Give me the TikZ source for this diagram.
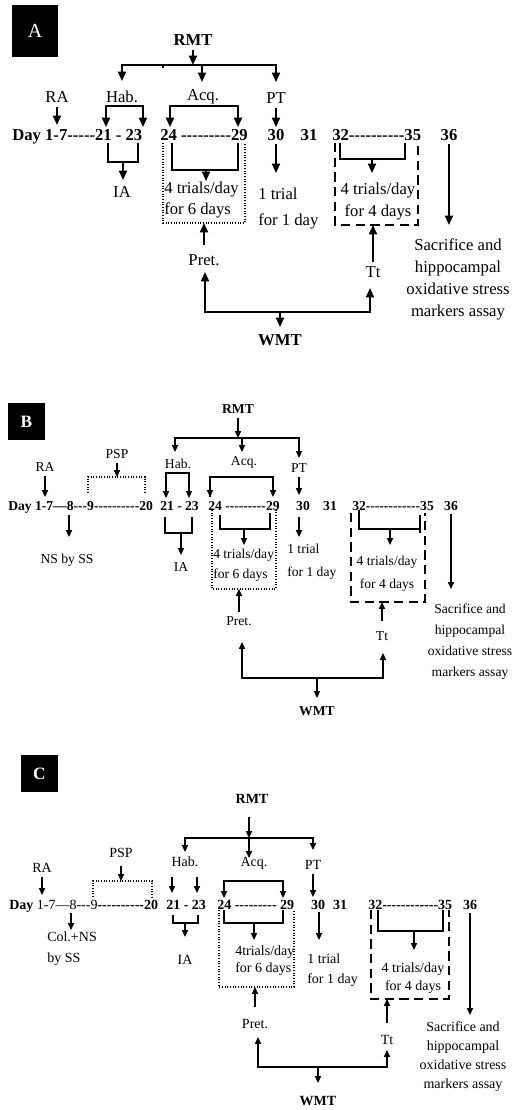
\documentclass[tikz,border=0pt]{standalone}
\usepackage{fontspec}
\setmainfont{Liberation Serif}[Ligatures=TeXOff]
\usetikzlibrary{arrows.meta}

\begin{document}
\begin{tikzpicture}[x=0.75pt, y=-0.75pt,
    bigarrow/.style={-{Triangle[width=6pt,length=7pt]}, line width=1.3pt},
    arrow/.style={-{Triangle[width=4.6pt,length=5.2pt]}, line width=0.9pt},
    bigbracket/.style={line width=1.5pt},
    bracket/.style={line width=1.1pt},
    dotbox/.style={dash pattern=on 0.8pt off 1.2pt, line width=0.8pt},
    dashbox/.style={dash pattern=on 7pt off 4pt, line width=1pt},
    tag/.style={fill=black, text=white, inner sep=0pt},
    lblA/.style={inner sep=3pt, font=\fontsize{12.5}{15}\selectfont},
    lblB/.style={inner sep=3pt, font=\fontsize{10.2}{12}\selectfont},
    lblC/.style={inner sep=3pt, font=\fontsize{10.5}{12.5}\selectfont},
    rowA/.style={inner xsep=0pt, inner ysep=3pt, anchor=base west, font=\bfseries\fontsize{12.5}{15}\selectfont},
    rowB/.style={inner xsep=0pt, inner ysep=3pt, anchor=base west, font=\bfseries\fontsize{10.2}{12}\selectfont},
    rowC/.style={inner xsep=0pt, inner ysep=3pt, anchor=base west, font=\bfseries\fontsize{10.5}{12.5}\selectfont},
    note/.style={inner sep=0pt, align=center}
  ]
  \fill[white] (0,0) rectangle (513,1110);
  \useasboundingbox (0,0) rectangle (513,1110);

  % ---------------- Panel A ----------------
  \node[tag, minimum width=34.5pt, minimum height=39pt, font=\fontsize{15}{18}\selectfont] (tagA) at (35,31) {A};
  \node[lblA, font=\bfseries\fontsize{12.5}{15}\selectfont] (rmtA) at (193,40) {RMT};
  \node[lblA] (raA)  at (57,97)  {RA};
  \node[lblA] (habA) at (122,97) {Hab.};
  \node[lblA] (acqA) at (203,97) {Acq.};
  \node[lblA] (ptA)  at (276,98) {PT};
  % day row
  \node[rowA] (dayA) at (12,140)  {Day 1-7-----21 - 23};
  \node[rowA] (n24A) at (160,140) {24 ---------29};
  \node[rowA, anchor=base] (n30A) at (276,140) {30};
  \node[rowA, anchor=base] (n31A) at (309,140) {31};
  \node[rowA] (n32A) at (332,140) {32----------35};
  \node[rowA, anchor=base] (n36A) at (449,140) {36};
  % texts below
  \node[lblA] (iaA) at (122,192) {IA};
  \node[note, align=left, anchor=west, font=\fontsize{12.5}{15.75}\selectfont] (trialsA) at (164,200.5) {4 trials/day\\for 6 days};
  \node[note, align=left, anchor=west, font=\fontsize{12.5}{19.5}\selectfont] (oneA) at (258,209) {1 trial\\for 1 day};
  \node[note, font=\fontsize{12.5}{16.5}\selectfont] (trials4A) at (378,202) {4 trials/day\\for 4 days};
  \node[note, font=\fontsize{12.5}{16.5}\selectfont] (sacA) at (458,279) {Sacrifice and\\hippocampal\\oxidative stress\\markers assay};
  \node[lblA] (pretA) at (204,260) {Pret.};
  \node[lblA] (ttA) at (373,272) {Tt};
  \node[lblA, font=\bfseries\fontsize{12.5}{15}\selectfont] (wmtA) at (280,340) {WMT};

  \coordinate (busA) at (193,65);
  \coordinate (tickA) at (163,65);
  \coordinate (habtipA) at (122,81);
  \coordinate (acqtipA) at (202,82);
  \coordinate (pttipA) at (276,82);
  \coordinate (ratipA) at (57,125);
  \coordinate (habtopA) at (124,106);
  \coordinate (h21A) at (106,127);
  \coordinate (h23A) at (143,127);
  \coordinate (acqtopA) at (204,106);
  \coordinate (a24A) at (170,127);
  \coordinate (a29A) at (238,127);
  \coordinate (pt30A) at (276,127);
  \coordinate (ia1A) at (108,143);
  \coordinate (ia2A) at (138,143);
  \coordinate (iamidA) at (123,162);
  \coordinate (iatipA) at (123,180);
  \coordinate (ab1A) at (172,143);
  \coordinate (ab2A) at (238,143);
  \coordinate (abmidA) at (206,170);
  \coordinate (abtipA) at (206,181);
  \coordinate (dotTLA) at (163,143);
  \coordinate (dotBRA) at (245,223);
  \coordinate (d30tipA) at (276,173);
  \coordinate (dashTLA) at (335,143);
  \coordinate (dashBRA) at (418,225);
  \coordinate (b32A) at (340,143);
  \coordinate (b35A) at (405,143);
  \coordinate (bmidA) at (372,159);
  \coordinate (btipA) at (372,173);
  \coordinate (d36tipA) at (449,225);
  \coordinate (wmtbusA) at (280,312);
  \coordinate (prettipA) at (205,272);
  \coordinate (tttipA) at (370,288);
  \coordinate (wmttipA) at (280,327);

  \draw[bigarrow] (rmtA.south) -- (busA);
  \draw[bigarrow] (busA) -| (habtipA);
  \draw[bigarrow] (busA) -| (pttipA);
  \draw[bigarrow] (busA -| acqtipA) -- (acqtipA);
  \draw[bigbracket] (tickA) -- ++(0,3);
  \draw[bigarrow] (raA.south) -- (raA.south |- ratipA);
  \draw[bigarrow] (habtopA) -| (h21A);
  \draw[bigarrow] (habtopA) -| (h23A);
  \draw[bigarrow] (acqtopA) -| (a24A);
  \draw[bigarrow] (acqtopA) -| (a29A);
  \draw[bigarrow] (ptA.south) -- (ptA.south |- pt30A);
  \draw[bigbracket] (ia1A) |- (iamidA) -| (ia2A);
  \draw[bigarrow] (iamidA) -- (iatipA);
  \draw[bigbracket] (ab1A) |- (abmidA) -| (ab2A);
  \draw[bigarrow] (abmidA) -- (abtipA);
  \draw[dotbox] (dotTLA) |- (dotBRA) -- (dotBRA |- dotTLA);
  \draw[bigarrow] (n30A.south) -- (n30A.south |- d30tipA);
  \draw[dashbox] (dashTLA) |- (dashBRA) -- (dashBRA |- dashTLA);
  \draw[bigbracket] (b32A) |- (bmidA) -| (b35A);
  \draw[bigarrow] (bmidA) -- (btipA);
  \draw[bigarrow] (n36A.south) -- (n36A.south |- d36tipA);
  \draw[bigarrow, shorten <=4pt] (pretA.north) -- (pretA.north |- dotBRA);
  \draw[bigarrow] (ttA.north) -- (ttA.north |- dashBRA);
  \draw[bigarrow] (wmtbusA) -| (prettipA);
  \draw[bigarrow] (wmtbusA) -| (tttipA);
  \draw[bigarrow] (wmtbusA) -- (wmttipA);

  % ---------------- Panel B ----------------
  \node[tag, minimum size=27.75pt, font=\bfseries\fontsize{13}{15}\selectfont] (tagB) at (26.5,421.5) {B};
  \node[lblB, font=\bfseries\fontsize{10.2}{12}\selectfont] (rmtB) at (238,409) {RMT};
  \node[lblB] (raB)  at (45,467)  {RA};
  \node[lblB] (pspB) at (117,454) {PSP};
  \node[lblB] (habB) at (178,464) {Hab.};
  \node[lblB] (acqB) at (244,462) {Acq.};
  \node[lblB] (ptB)  at (299,468) {PT};
  % day row
  \node[rowB] (dayB) at (8,510)   {Day 1-7—8---9----------20};
  \node[rowB] (n21B) at (160,510) {21 - 23};
  \node[rowB] (n24B) at (208,510) {24 ---------29};
  \node[rowB, anchor=base] (n30B) at (303,510) {30};
  \node[rowB, anchor=base] (n31B) at (330,510) {31};
  \node[rowB] (n32B) at (352,510) {32------------35};
  \node[rowB, anchor=base] (n36B) at (451,510) {36};
  % texts below
  \node[lblB] (nsB) at (67,560) {NS by SS};
  \node[lblB] (iaB) at (181,567) {IA};
  \node[note, align=left, anchor=west, font=\fontsize{10.2}{15}\selectfont] (trialsB) at (213,565) {4 trials/day\\for 6 days};
  \node[note, align=left, anchor=west, font=\fontsize{10.2}{17.25}\selectfont] (oneB) at (287,561.5) {1 trial\\for 1 day};
  \node[note, font=\fontsize{10.2}{17.25}\selectfont] (trials4B) at (387,573.5) {4 trials/day\\for 4 days};
  \node[note, font=\fontsize{10.2}{15.75}\selectfont] (sacB) at (470,641.5) {Sacrifice and\\hippocampal\\oxidative stress\\markers assay};
  \node[lblB] (pretB) at (239,621) {Pret.};
  \node[lblB] (ttB) at (382,636) {Tt};
  \node[lblB, font=\bfseries\fontsize{10.2}{12}\selectfont] (wmtB) at (317,711) {WMT};

  \coordinate (busB) at (238,438);
  \coordinate (habtipB) at (175,452);
  \coordinate (acqtipB) at (242,452);
  \coordinate (pttipB) at (299,458);
  \coordinate (ratipB) at (45,497);
  \coordinate (pspbrB) at (117,477);
  \coordinate (dsLB) at (88,493);
  \coordinate (dsRB) at (145,493);
  \coordinate (c8B) at (69,515);
  \coordinate (nstipB) at (69,537);
  \coordinate (habtopB) at (177.5,473);
  \coordinate (h21B) at (166,498);
  \coordinate (h23B) at (189,498);
  \coordinate (ia1B) at (165,517);
  \coordinate (ia2B) at (192,517);
  \coordinate (iamidB) at (181,533);
  \coordinate (iatipB) at (181,555);
  \coordinate (acqtopB) at (241.5,477);
  \coordinate (a24B) at (210,497);
  \coordinate (a29B) at (273,497);
  \coordinate (ab1B) at (220,515);
  \coordinate (ab2B) at (270,513);
  \coordinate (abmidB) at (244,529);
  \coordinate (abtipB) at (244,545);
  \coordinate (dotTLB) at (212,510);
  \coordinate (dotBRB) at (276,589);
  \coordinate (pt30B) at (299,495);
  \coordinate (d30B) at (299,517);
  \coordinate (d30tipB) at (299,537);
  \coordinate (dashTLB) at (351,513);
  \coordinate (dashBRB) at (425,602);
  \coordinate (b32B) at (359,510);
  \coordinate (b35mB) at (420,529);
  \coordinate (b35tB) at (420,515);
  \coordinate (b35bB) at (420,533);
  \coordinate (bmidB) at (390,529);
  \coordinate (btipB) at (390,545);
  \coordinate (d36tipB) at (451,589);
  \coordinate (wmtbusB) at (317,678);
  \coordinate (prettipB) at (242,642);
  \coordinate (tttipB) at (383,653);
  \coordinate (wmttipB) at (317,698);

  \draw[arrow] (rmtB.south) -- (busB);
  \draw[arrow] (busB) -| (habtipB);
  \draw[arrow] (busB) -| (pttipB);
  \draw[arrow] (busB -| acqtipB) -- (acqtipB);
  \draw[arrow] (raB.south) -- (raB.south |- ratipB);
  \draw[arrow] (pspB.south) -- (pspB.south |- pspbrB);
  \draw[dotbox] (dsLB) |- (pspbrB) -| (dsRB);
  \draw[arrow] (c8B) -- (nstipB);
  \draw[arrow] (habtopB) -| (h21B);
  \draw[arrow] (habtopB) -| (h23B);
  \draw[bracket] (ia1B) |- (iamidB) -| (ia2B);
  \draw[arrow] (iamidB) -- (iatipB);
  \draw[bracket] (acqtopB) -| (a24B);
  \draw[arrow] (acqtopB) -| (a24B);
  \draw[arrow] (acqtopB) -| (a29B);
  \draw[bracket] (ab1B) |- (abmidB) -| (ab2B);
  \draw[arrow] (abmidB) -- (abtipB);
  \draw[dotbox] (dotTLB) |- (dotBRB) -- (dotBRB |- dotTLB);
  \draw[arrow] (ptB.south) -- (ptB.south |- pt30B);
  \draw[arrow] (d30B) -- (d30tipB);
  \draw[dashbox] (dashTLB) |- (dashBRB) -- (dashBRB |- dashTLB);
  \draw[bracket] (b32B) |- (b35mB);
  \draw[bracket] (b35tB) -- (b35bB);
  \draw[arrow] (bmidB) -- (btipB);
  \draw[arrow] (n36B.south) -- (n36B.south |- d36tipB);
  \draw[arrow] (pretB.north) -- (pretB.north |- dotBRB);
  \draw[arrow, shorten <=5pt] (ttB.north) -- (ttB.north |- dashBRB);
  \draw[arrow] (wmtbusB) -| (prettipB);
  \draw[arrow] (wmtbusB) -| (tttipB);
  \draw[arrow] (wmtbusB) -- (wmttipB);

  % ---------------- Panel C ----------------
  \node[tag, minimum size=27.75pt, font=\bfseries\fontsize{13}{15}\selectfont] (tagC) at (39.5,773.5) {C};
  \node[lblC, font=\bfseries\fontsize{10.5}{12.5}\selectfont] (rmtC) at (252,799) {RMT};
  \node[lblC] (raC)  at (42,868)  {RA};
  \node[lblC] (pspC) at (121,853) {PSP};
  \node[lblC] (habC) at (185,862) {Hab.};
  \node[lblC] (acqC) at (254,863) {Acq.};
  \node[lblC] (ptC)  at (313,865) {PT};
  % day row
  \node[rowC] (dayC) at (9,909)   {Day \mdseries 1-7—8---9\bfseries----------20};
  \node[rowC] (n21C) at (166,909) {21 - 23};
  \node[rowC] (n24C) at (217,909) {24 --------- 29};
  \node[rowC, anchor=base] (n30C) at (318,909) {30};
  \node[rowC, anchor=base] (n31C) at (340,909) {31};
  \node[rowC] (n32C) at (368,909) {32------------35};
  \node[rowC, anchor=base] (n36C) at (470,909) {36};
  % texts below
  \node[note, align=left, anchor=west, font=\fontsize{10.5}{15.75}\selectfont] (colC) at (47,948.5) {Col.+NS\\by SS};
  \node[lblC] (iaC) at (185,960) {IA};
  \node[note, align=left, anchor=west, font=\fontsize{10.5}{12.75}\selectfont] (trialsC) at (235,960.5) {4trials/day\\for 6 days};
  \node[note, align=left, anchor=west, font=\fontsize{10.5}{15}\selectfont] (oneC) at (307,970) {1 trial\\for 1 day};
  \node[note, font=\fontsize{10.5}{13.5}\selectfont] (trials4C) at (413,978) {4 trials/day\\for 4 days};
  \node[note, font=\fontsize{10.5}{14.25}\selectfont] (sacC) at (463,1056.5) {Sacrifice and\\hippocampal\\oxidative stress\\markers assay};
  \node[lblC] (pretC) at (255,1024) {Pret.};
  \node[lblC] (ttC) at (387,1040) {Tt};
  \node[lblC, font=\bfseries\fontsize{10.5}{12.5}\selectfont] (wmtC) at (318,1101) {WMT};

  \coordinate (rmttailC) at (249,817);
  \coordinate (busC) at (249,838);
  \coordinate (habtipC) at (185,852);
  \coordinate (acqtipC) at (249,858);
  \coordinate (pttipC) at (313,850);
  \coordinate (ratipC) at (42,895);
  \coordinate (pspbrC) at (121,881);
  \coordinate (dsLC) at (93,897);
  \coordinate (dsRC) at (152,897);
  \coordinate (c8C) at (71,913);
  \coordinate (coltipC) at (71,930);
  \coordinate (h21tC) at (172,877);
  \coordinate (h21C) at (172,893);
  \coordinate (h23tC) at (197,877);
  \coordinate (h23C) at (197,893);
  \coordinate (ia1C) at (173,915);
  \coordinate (ia2C) at (198,915);
  \coordinate (iamidC) at (185,923);
  \coordinate (iatipC) at (185,937);
  \coordinate (acqtopC) at (253.5,881);
  \coordinate (a24C) at (224,898);
  \coordinate (a29C) at (283,898);
  \coordinate (ab1C) at (224,910);
  \coordinate (ab2C) at (283,910);
  \coordinate (abmidC) at (254,923);
  \coordinate (abtipC) at (254,940);
  \coordinate (dotTLC) at (219,910);
  \coordinate (dotBRC) at (294,987);
  \coordinate (pt30C) at (313,897);
  \coordinate (d30C) at (319,912);
  \coordinate (d30tipC) at (319,940);
  \coordinate (dashTLC) at (371,910);
  \coordinate (dashBRC) at (449,999);
  \coordinate (b32C) at (378,910);
  \coordinate (b35C) at (443,910);
  \coordinate (bmidC) at (414,931);
  \coordinate (btipC) at (414,950);
  \coordinate (d36tipC) at (470,1015);
  \coordinate (wmtbusC) at (318,1067);
  \coordinate (prettipC) at (258,1037);
  \coordinate (tttipC) at (387,1050);
  \coordinate (wmttipC) at (318,1083);

  \draw[arrow] (rmttailC) -- (busC);
  \draw[arrow] (busC) -- (acqtipC);
  \draw[arrow] (busC) -| (habtipC);
  \draw[arrow] (busC) -| (pttipC);
  \draw[arrow] (raC.south) -- (raC.south |- ratipC);
  \draw[arrow, shorten <=3pt] (pspC.south) -- (pspC.south |- pspbrC);
  \draw[dotbox] (dsLC) |- (pspbrC) -| (dsRC);
  \draw[arrow] (c8C) -- (coltipC);
  \draw[arrow] (h21tC) -- (h21C);
  \draw[arrow] (h23tC) -- (h23C);
  \draw[bracket] (ia1C) |- (iamidC) -| (ia2C);
  \draw[arrow] (iamidC) -- (iatipC);
  \draw[arrow, line width=1.1pt] (acqtopC) -| (a24C);
  \draw[arrow, line width=1.1pt] (acqtopC) -| (a29C);
  \draw[bracket] (ab1C) |- (abmidC) -| (ab2C);
  \draw[arrow] (abmidC) -- (abtipC);
  \draw[dotbox] (dotTLC) |- (dotBRC) -- (dotBRC |- dotTLC);
  \draw[arrow] (ptC.south) -- (ptC.south |- pt30C);
  \draw[arrow] (d30C) -- (d30tipC);
  \draw[dashbox] (dashTLC) |- (dashBRC) -- (dashBRC |- dashTLC);
  \draw[bracket] (b32C) |- (bmidC) -| (b35C);
  \draw[arrow] (bmidC) -- (btipC);
  \draw[arrow] (n36C.south) -- (n36C.south |- d36tipC);
  \draw[arrow, shorten <=6pt] (pretC.north) -- (pretC.north |- dotBRC);
  \draw[arrow, shorten <=6pt] (ttC.north) -- (ttC.north |- dashBRC);
  \draw[arrow] (wmtbusC) -| (prettipC);
  \draw[arrow] (wmtbusC) -| (tttipC);
  \draw[arrow] (wmtbusC) -- (wmttipC);
\end{tikzpicture}
\end{document}
